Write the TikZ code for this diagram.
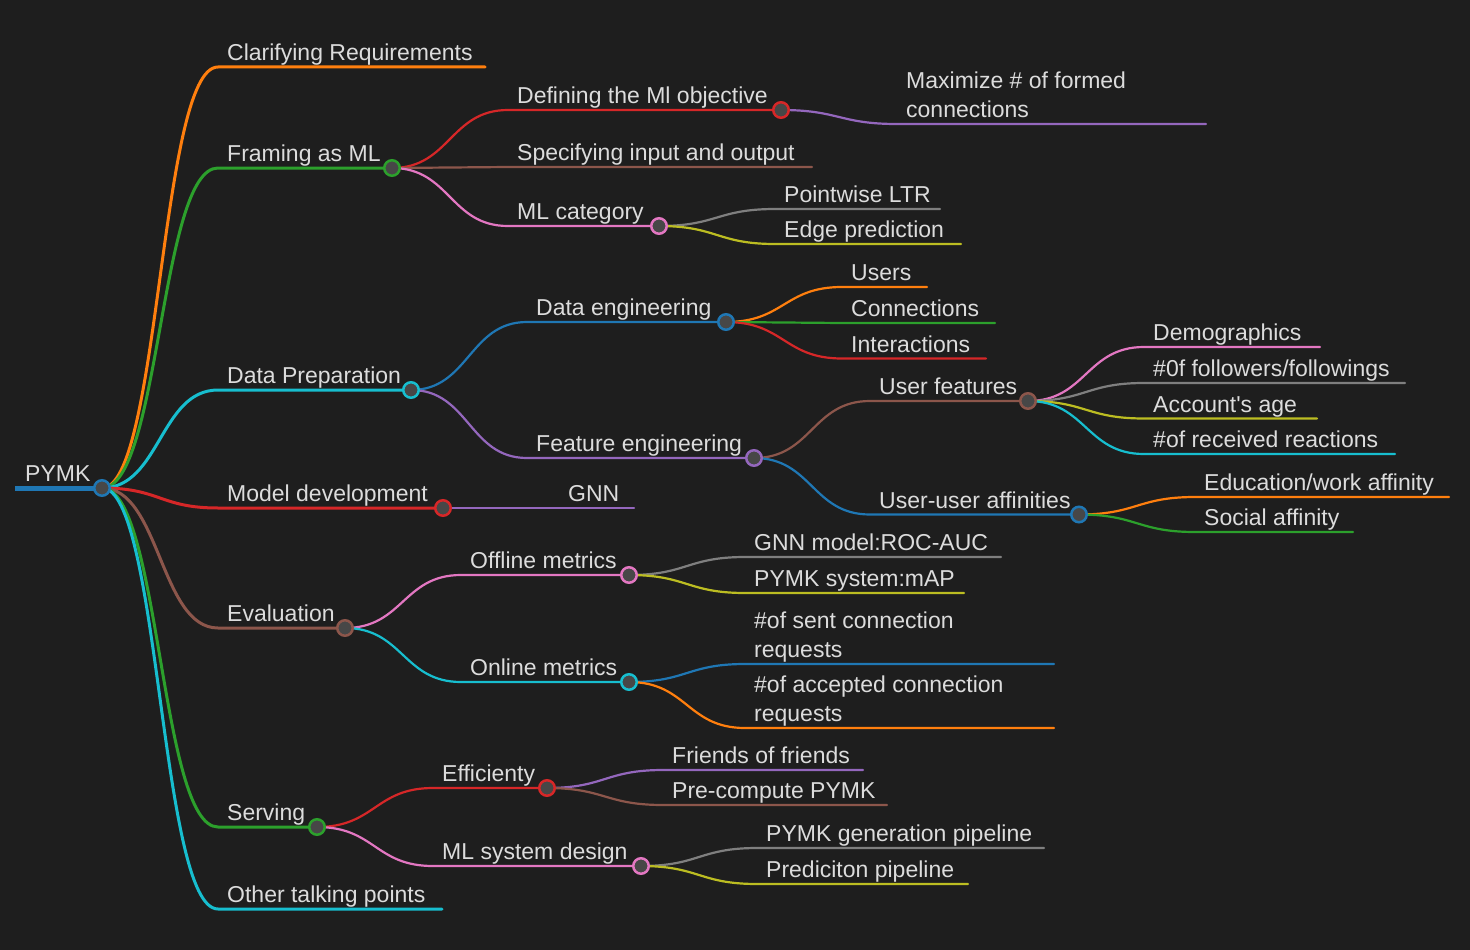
\documentclass[tikz,border=0pt]{standalone}
\usepackage{fontspec}
\setmainfont{Liberation Sans}
\usetikzlibrary{calc}
\definecolor{bg}{HTML}{1E1E1E}
\definecolor{txt}{HTML}{DCDCDC}
\definecolor{dotfill}{HTML}{474747}
\definecolor{cB}{HTML}{1F77B4}
\definecolor{cO}{HTML}{FF7F0E}
\definecolor{cG}{HTML}{2CA02C}
\definecolor{cR}{HTML}{D62728}
\definecolor{cPu}{HTML}{9467BD}
\definecolor{cBr}{HTML}{8C564B}
\definecolor{cP}{HTML}{E377C2}
\definecolor{cGr}{HTML}{7F7F7F}
\definecolor{cOl}{HTML}{BCBD22}
\definecolor{cC}{HTML}{17BECF}
\tikzset{
  lnk/.style={line width=2.2pt, line cap=round},
  lone/.style={line width=3pt},
  dot/.style={circle, line width=2.5pt, fill=dotfill, minimum size=15.5pt, inner sep=0pt},
  lbl/.style={anchor=south west, inner sep=0pt, text depth=0pt, text=txt, align=left,
    font=\fontsize{23pt}{29pt}\selectfont},
  mm/.style={to path={.. controls ($(\tikztostart)!0.5!(\tikztotarget |- \tikztostart)$)
     and ($(\tikztotarget)!0.5!(\tikztostart |- \tikztotarget)$) .. (\tikztotarget) \tikztonodes}}
}
% #1 parent, #2 id, #3 style, #4 y, #5 start x, #6 end x, #7 text
\newcommand\br[7]{%
  \coordinate (#2-s) at (#5,#4);
  \coordinate (#2) at (#6,#4);
  \draw[lnk,#3] (#1) to[mm] (#2-s) -- (#2);
  \node[lbl] (#2-t) at ([xshift=9pt,yshift=6pt]#2-s) {#7};
}
\begin{document}
\begin{tikzpicture}[x=1pt,y=-1pt]
\fill[bg] (0,0) rectangle (1470,950);
\useasboundingbox (0,0) rectangle (1470,950);

% root
\coordinate (R0) at (15,488);
\coordinate (R) at (102,488);
\draw[cB, line width=5pt] (R0) -- (R);
\node[lbl] (R-t) at ([xshift=10pt,yshift=6pt]R0) {PYMK};

% level 1
\br{R}{cr}{cO,lone}{67}{218}{485}{Clarifying Requirements}
\br{R}{fr}{cG,lone}{168}{218}{392}{Framing as ML}
\br{R}{dp}{cC,lone}{390}{218}{411}{Data Preparation}
\br{R}{md}{cR,lone}{508}{218}{443}{Model development}
\br{R}{ev}{cBr,lone}{628}{218}{345}{Evaluation}
\br{R}{sv}{cG,lone}{827}{218}{317}{Serving}
\br{R}{ot}{cC,lone}{909}{218}{442}{Other talking points}

% framing
\br{fr}{dm}{cR}{110}{508}{781}{Defining the Ml objective}
\br{fr}{si}{cBr}{167}{508}{812}{Specifying input and output}
\br{fr}{mc}{cP}{226}{508}{659}{ML category}
\br{dm}{mx}{cPu}{124}{897}{1206}{Maximize \# of formed\\connections}
\br{mc}{pl}{cGr}{209}{775}{940}{Pointwise LTR}
\br{mc}{ep}{cOl}{244}{775}{961}{Edge prediction}

% data preparation
\br{dp}{de}{cB}{322}{527}{726}{Data engineering}
\br{dp}{fe}{cPu}{458}{527}{754}{Feature engineering}
\br{de}{us}{cO}{287}{842}{927}{Users}
\br{de}{cn}{cG}{323}{842}{995}{Connections}
\br{de}{in}{cR}{358.5}{842}{986}{Interactions}
\br{fe}{uf}{cBr}{401}{870}{1028}{User features}
\br{fe}{ua}{cB}{514.5}{870}{1079}{User-user affinities}
\br{uf}{dg}{cP}{347}{1144}{1320}{Demographics}
\br{uf}{fl}{cGr}{383}{1144}{1405}{\#0f followers/followings}
\br{uf}{ag}{cOl}{418.5}{1144}{1317}{Account\textquotesingle s age}
\br{uf}{rr}{cC}{454}{1144}{1395}{\#of received reactions}
\br{ua}{ew}{cO}{497}{1195}{1449}{Education/work affinity}
\br{ua}{sa}{cG}{532}{1195}{1353}{Social affinity}

% model development
\br{md}{gn}{cPu}{508}{559}{634}{GNN}

% evaluation
\br{ev}{of}{cP}{575}{461}{629}{Offline metrics}
\br{ev}{on}{cC}{682}{461}{629}{Online metrics}
\br{of}{ra}{cGr}{557}{745}{1001}{GNN model:ROC-AUC}
\br{of}{ma}{cOl}{593}{745}{964}{PYMK system:mAP}
\br{on}{sc}{cB}{664}{745}{1054}{\#of sent connection\\requests}
\br{on}{ac}{cO}{728}{745}{1054}{\#of accepted connection\\requests}

% serving
\br{sv}{ef}{cR}{788}{433}{547}{Efficienty}
\br{sv}{ms}{cP}{866}{433}{641}{ML system design}
\br{ef}{ff}{cPu}{770}{663}{863}{Friends of friends}
\br{ef}{pc}{cBr}{805}{663}{887}{Pre-compute PYMK}
\br{ms}{pg}{cGr}{848}{757}{1044}{PYMK generation pipeline}
\br{ms}{pp}{cOl}{884}{757}{968}{Prediciton pipeline}

% dots
\node[dot, draw=cB] (R-dot) at (R) {};
\node[dot, draw=cG] (fr-dot) at (fr) {};
\node[dot, draw=cC] (dp-dot) at (dp) {};
\node[dot, draw=cR] (md-dot) at (md) {};
\node[dot, draw=cBr] (ev-dot) at (ev) {};
\node[dot, draw=cG] (sv-dot) at (sv) {};
\node[dot, draw=cR] (dm-dot) at (dm) {};
\node[dot, draw=cP] (mc-dot) at (mc) {};
\node[dot, draw=cB] (de-dot) at (de) {};
\node[dot, draw=cPu] (fe-dot) at (fe) {};
\node[dot, draw=cBr] (uf-dot) at (uf) {};
\node[dot, draw=cB] (ua-dot) at (ua) {};
\node[dot, draw=cP] (of-dot) at (of) {};
\node[dot, draw=cC] (on-dot) at (on) {};
\node[dot, draw=cR] (ef-dot) at (ef) {};
\node[dot, draw=cP] (ms-dot) at (ms) {};
\end{tikzpicture}
\end{document}
